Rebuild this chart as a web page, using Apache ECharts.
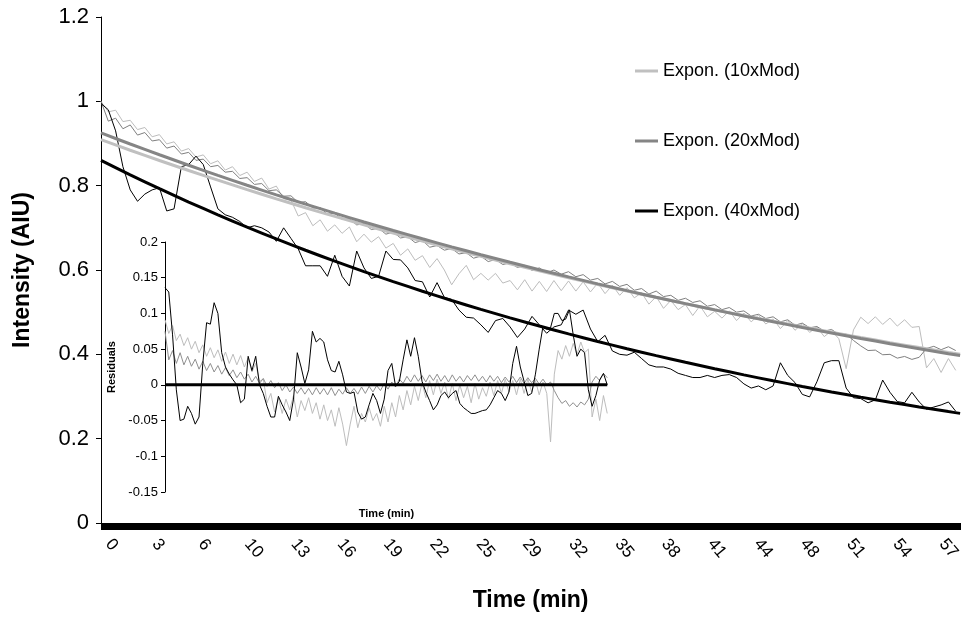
<!DOCTYPE html>
<html><head><meta charset="utf-8">
<script src="https://cdn.jsdelivr.net/npm/echarts@6/dist/echarts.min.js"></script>
<style>html,body{margin:0;padding:0;background:#fff}#c{width:963px;height:618px}</style>
</head><body><div id="c"></div>
<script>
// Sampling step of the recorded traces (minutes)
const STEP_MIN = 0.5;

// Intensity traces (AIU), one value every 0.5 min from t = 0
const data10x = [1.000,0.975,0.979,0.952,0.955,0.933,0.938,0.916,0.921,0.899,0.904,0.882,0.888,0.868,0.873,0.852,0.859,0.837,0.845,0.824,0.832,0.810,0.818,0.792,0.799,0.769,0.766,0.728,0.736,0.705,0.719,0.692,0.707,0.687,0.702,0.667,0.685,0.666,0.679,0.652,0.663,0.635,0.650,0.623,0.634,0.606,0.627,0.600,0.565,0.591,0.611,0.577,0.592,0.576,0.592,0.569,0.575,0.553,0.577,0.550,0.573,0.549,0.575,0.551,0.574,0.550,0.572,0.548,0.569,0.544,0.564,0.540,0.558,0.534,0.546,0.519,0.537,0.509,0.528,0.506,0.518,0.492,0.515,0.489,0.502,0.486,0.503,0.480,0.498,0.477,0.493,0.472,0.484,0.461,0.480,0.457,0.473,0.452,0.465,0.442,0.456,0.437,0.366,0.458,0.488,0.473,0.489,0.471,0.486,0.467,0.482,0.464,0.466,0.368,0.390,0.357,0.390,0.362];
const data20x = [1.000,0.953,0.960,0.935,0.944,0.920,0.926,0.906,0.909,0.889,0.894,0.875,0.879,0.860,0.863,0.845,0.848,0.832,0.834,0.817,0.819,0.803,0.805,0.788,0.790,0.775,0.776,0.760,0.762,0.747,0.748,0.732,0.735,0.720,0.721,0.707,0.710,0.696,0.699,0.685,0.690,0.676,0.679,0.665,0.670,0.654,0.658,0.647,0.651,0.638,0.641,0.628,0.633,0.620,0.625,0.613,0.617,0.606,0.611,0.599,0.605,0.593,0.600,0.590,0.596,0.584,0.589,0.576,0.580,0.567,0.573,0.561,0.566,0.552,0.556,0.543,0.550,0.537,0.540,0.528,0.533,0.523,0.527,0.514,0.518,0.506,0.511,0.500,0.503,0.491,0.495,0.485,0.489,0.477,0.482,0.469,0.474,0.463,0.466,0.455,0.459,0.447,0.448,0.433,0.420,0.409,0.410,0.399,0.400,0.391,0.395,0.388,0.393,0.414,0.419,0.411,0.418,0.409];
const data40x = [0.995,0.98,0.93,0.845,0.79,0.763,0.78,0.79,0.795,0.74,0.745,0.845,0.85,0.87,0.85,0.797,0.745,0.731,0.725,0.715,0.70,0.705,0.70,0.69,0.668,0.70,0.675,0.65,0.61,0.61,0.61,0.585,0.635,0.585,0.562,0.645,0.605,0.58,0.585,0.645,0.625,0.624,0.605,0.575,0.572,0.536,0.57,0.535,0.53,0.505,0.488,0.486,0.47,0.452,0.48,0.485,0.465,0.44,0.46,0.49,0.47,0.45,0.465,0.47,0.505,0.495,0.505,0.46,0.43,0.445,0.408,0.40,0.398,0.405,0.39,0.375,0.37,0.37,0.365,0.355,0.35,0.345,0.345,0.35,0.345,0.35,0.352,0.345,0.33,0.32,0.325,0.316,0.325,0.38,0.35,0.333,0.305,0.299,0.335,0.38,0.385,0.385,0.32,0.297,0.295,0.285,0.292,0.339,0.31,0.288,0.285,0.31,0.287,0.27,0.275,0.28,0.287,0.265];

// Exponential trendlines, read every 2 min (last point at the axis end)
const fitTimes = [0,2,4,6,8,10,12,14,16,18,20,22,24,26,28,30,32,34,36,38,40,42,44,46,48,50,52,54,56,58,58.8];
const fit10x = [0.909,0.884,0.8596,0.836,0.813,0.7906,0.7688,0.7477,0.7271,0.7071,0.6876,0.6687,0.6503,0.6324,0.615,0.5981,0.5816,0.5656,0.55,0.5349,0.5201,0.5058,0.4919,0.4784,0.4652,0.4524,0.4399,0.4278,0.416,0.4046,0.4001];
const fit20x = [0.925,0.8988,0.8733,0.8485,0.8244,0.801,0.7783,0.7562,0.7348,0.7139,0.6937,0.674,0.6549,0.6363,0.6183,0.6007,0.5837,0.5671,0.551,0.5354,0.5202,0.5055,0.4911,0.4772,0.4637,0.4505,0.4377,0.4253,0.4133,0.4015,0.397];
const fit40x = [0.86,0.8257,0.7928,0.7612,0.7308,0.7017,0.6737,0.6468,0.621,0.5963,0.5725,0.5497,0.5277,0.5067,0.4865,0.4671,0.4485,0.4306,0.4134,0.3969,0.3811,0.3659,0.3513,0.3373,0.3238,0.3109,0.2985,0.2866,0.2752,0.2642,0.26];

// Residuals (inset), one value every 0.5 min
const resid10x = [0.091,0.072,0.083,0.062,0.071,0.055,0.066,0.050,0.061,0.045,0.056,0.040,0.052,0.038,0.049,0.033,0.046,0.030,0.043,0.028,0.041,0.025,0.038,0.018,0.030,0.005,0.008,-0.025,-0.012,-0.038,-0.018,-0.040,-0.020,-0.035,-0.015,-0.045,-0.022,-0.036,-0.018,-0.040,-0.025,-0.048,-0.028,-0.050,-0.035,-0.058,-0.032,-0.055,-0.085,-0.055,-0.030,-0.060,-0.040,-0.052,-0.032,-0.050,-0.040,-0.058,-0.030,-0.052,-0.025,-0.045,-0.015,-0.035,-0.008,-0.028,-0.002,-0.022,0.003,-0.018,0.006,-0.014,0.008,-0.012,0.004,-0.020,0.002,-0.022,0.000,-0.018,-0.002,-0.025,0.002,-0.020,-0.004,-0.016,0.004,-0.015,0.006,-0.012,0.008,-0.010,0.006,-0.014,0.008,-0.012,0.008,-0.010,0.006,-0.014,0.004,-0.012,-0.080,0.015,0.048,0.036,0.055,0.040,0.058,0.042,0.060,0.045,0.050,-0.045,-0.020,-0.050,-0.015,-0.040];
const resid20x = [0.075,0.035,0.048,0.030,0.045,0.028,0.040,0.026,0.036,0.022,0.033,0.020,0.030,0.018,0.027,0.015,0.024,0.013,0.021,0.010,0.018,0.008,0.015,0.004,0.012,0.002,0.009,-0.002,0.006,-0.004,0.003,-0.008,0.000,-0.010,-0.003,-0.012,-0.004,-0.013,-0.005,-0.014,-0.004,-0.013,-0.005,-0.014,-0.004,-0.015,-0.006,-0.013,-0.004,-0.012,-0.005,-0.013,-0.003,-0.012,-0.002,-0.010,-0.001,-0.008,0.002,-0.006,0.004,-0.003,0.008,0.002,0.012,0.004,0.014,0.005,0.013,0.004,0.014,0.006,0.015,0.005,0.013,0.004,0.014,0.005,0.012,0.004,0.013,0.006,0.014,0.005,0.012,0.004,0.013,0.005,0.012,0.003,0.011,0.004,0.012,0.003,0.011,0.002,0.010,0.003,0.009,0.001,0.008,0.000,0.004,-0.008,-0.018,-0.026,-0.022,-0.030,-0.025,-0.031,-0.024,-0.028,-0.020,0.004,0.012,0.006,0.016,0.010];
const resid40x = [0.136,0.13,0.07,-0.007,-0.05,-0.048,-0.03,-0.04,-0.055,-0.045,0.03,0.087,0.085,0.115,0.1,0.045,0.025,0.015,0.007,0.0,-0.025,-0.02,0.04,0.02,0.04,0.0,-0.012,-0.03,-0.045,-0.045,-0.016,-0.028,-0.038,-0.05,-0.02,0.045,0.025,0.002,0.021,0.075,0.06,0.065,0.06,0.035,0.02,0.018,0.033,0.014,-0.01,-0.012,-0.01,-0.038,-0.048,-0.045,-0.028,-0.012,-0.022,-0.04,-0.02,0.02,0.03,-0.002,0.005,0.035,0.063,0.04,0.066,0.04,0.005,-0.01,-0.022,-0.035,-0.028,-0.015,-0.01,-0.018,-0.012,-0.008,-0.026,-0.032,-0.036,-0.04,-0.04,-0.038,-0.036,-0.035,-0.028,-0.018,-0.008,-0.012,-0.022,-0.01,0.03,0.054,0.025,0.005,-0.015,-0.012,0.015,0.05,0.082,0.078,0.08,0.1,0.1,0.09,0.092,0.105,0.07,0.04,0.05,0.045,-0.007,-0.03,-0.015,0.007,0.016,0.0];
const zeroLineTimes = [0, 58.5];
const zeroLineValues = [0, 0];

// Axis settings
const xTickStep = 3.17;
const xMax = 58.8;
const yTicks = [0, 0.2, 0.4, 0.6, 0.8, 1, 1.2];
const residTicks = [-0.15, -0.1, -0.05, 0, 0.05, 0.1, 0.15, 0.2];

const legendNames = ['Expon. (10xMod)', 'Expon. (20xMod)', 'Expon. (40xMod)'];

const pair = (vals) => vals.map((v, i) => [i * STEP_MIN, v]);
const pairT = (ts, vals) => vals.map((v, i) => [ts[i], v]);

const FONT = 'Liberation Sans, Arial, sans-serif';
const C_LIGHT = '#c0c0c0', C_MID = '#858585', C_DARK = '#000000';

const chart = echarts.init(document.getElementById('c'), null, {renderer: 'canvas'});

function dataLine(name, vals, color, xi, yi, w, z) {
  return {type: 'line', name, data: pair(vals), xAxisIndex: xi, yAxisIndex: yi,
    showSymbol: false, symbol: 'none', silent: true, z: z,
    lineStyle: {color, width: w}, itemStyle: {color}, animation: false};
}
function fitLine(name, vals, color, w, z) {
  return {type: 'line', name, data: pairT(fitTimes, vals), xAxisIndex: 0, yAxisIndex: 0,
    showSymbol: false, symbol: 'none', smooth: 0.3, silent: true, z: z,
    lineStyle: {color, width: w}, itemStyle: {color}, animation: false};
}

chart.setOption({
  backgroundColor: '#ffffff',
  animation: false,
  textStyle: {fontFamily: FONT},
  legend: {
    data: legendNames.map(n => ({name: n, icon: 'rect'})),
    orient: 'vertical', left: 635, top: 62, padding: 0,
    itemWidth: 23, itemHeight: 3, itemGap: 52,
    selectedMode: false,
    textStyle: {fontFamily: FONT, fontSize: 18, color: '#000'}
  },
  grid: [
    {left: 101, right: 0, top: 17, bottom: 95, containLabel: false},
    {left: 165, width: 443, top: 242, height: 250, containLabel: false}
  ],
  xAxis: [
    {type: 'value', gridIndex: 0, min: 0, max: xMax, interval: xTickStep,
      name: 'Time (min)', nameLocation: 'middle', nameGap: 66,
      nameTextStyle: {fontFamily: FONT, fontWeight: 'bold', fontSize: 23, color: '#000'},
      axisLine: {show: true, onZero: false, lineStyle: {color: '#000', width: 1}},
      axisTick: {show: true, length: 7, lineStyle: {color: '#000', width: 1}},
      minorTick: {show: true, splitNumber: 60, length: 7, lineStyle: {color: '#000', width: 1}},
      splitLine: {show: false},
      axisLabel: {rotate: -50, margin: 9, fontSize: 17, color: '#000', fontFamily: FONT,
        padding: [0, 0, 0, 12],
        formatter: v => { const k = v / xTickStep; return Math.abs(k - Math.round(k)) < 0.01 ? String(Math.round(v)) : ''; }}
    },
    {type: 'value', gridIndex: 1, min: 0, max: 58.6,
      name: 'Time (min)', nameLocation: 'middle', nameGap: 16,
      nameTextStyle: {fontFamily: FONT, fontWeight: 'bold', fontSize: 11, color: '#000'},
      axisLine: {show: false, onZero: false}, axisTick: {show: false},
      axisLabel: {show: false}, splitLine: {show: false}
    }
  ],
  yAxis: [
    {type: 'value', gridIndex: 0, min: yTicks[0], max: yTicks[yTicks.length - 1], interval: 0.2,
      name: 'Intensity (AIU)', nameLocation: 'middle', nameGap: 67, nameRotate: 90,
      nameTextStyle: {fontFamily: FONT, fontWeight: 'bold', fontSize: 23, color: '#000'},
      axisLine: {show: true, lineStyle: {color: '#000', width: 1}},
      axisTick: {show: true, length: 5, lineStyle: {color: '#000'}},
      splitLine: {show: false},
      axisLabel: {fontSize: 22, color: '#000', margin: 12, fontFamily: FONT,
        formatter: v => String(Math.round(v * 10) / 10)}
    },
    {type: 'value', gridIndex: 1, min: residTicks[0], max: residTicks[residTicks.length - 1], interval: 0.05,
      name: 'Residuals', nameLocation: 'middle', nameGap: 48, nameRotate: 90,
      nameTextStyle: {fontFamily: FONT, fontWeight: 'bold', fontSize: 11, color: '#000'},
      axisLine: {show: true, lineStyle: {color: '#000', width: 1}},
      axisTick: {show: true, length: 4, lineStyle: {color: '#000'}},
      splitLine: {show: false},
      axisLabel: {fontSize: 13, color: '#000', margin: 7, fontFamily: FONT,
        formatter: v => String(Math.round(v * 100) / 100)}
    }
  ],
  series: [
    dataLine('10xMod', data10x, '#bdbdbd', 0, 0, 1, 2),
    dataLine('20xMod', data20x, '#7f7f7f', 0, 0, 1, 3),
    dataLine('40xMod', data40x, C_DARK, 0, 0, 1, 4),
    fitLine(legendNames[0], fit10x, C_LIGHT, 3, 5),
    fitLine(legendNames[1], fit20x, C_MID, 3, 6),
    fitLine(legendNames[2], fit40x, C_DARK, 3, 7),
    dataLine('Resid 10x', resid10x, '#bdbdbd', 1, 1, 1, 8),
    dataLine('Resid 20x', resid20x, '#8f8f8f', 1, 1, 1, 9),
    {type: 'line', name: 'zero', data: pairT(zeroLineTimes, zeroLineValues), xAxisIndex: 1, yAxisIndex: 1,
      showSymbol: false, symbol: 'none', silent: true, z: 10, lineStyle: {color: '#000', width: 3}, animation: false},
    dataLine('Resid 40x', resid40x, C_DARK, 1, 1, 1, 11)
  ]
});
</script>
</body></html>
